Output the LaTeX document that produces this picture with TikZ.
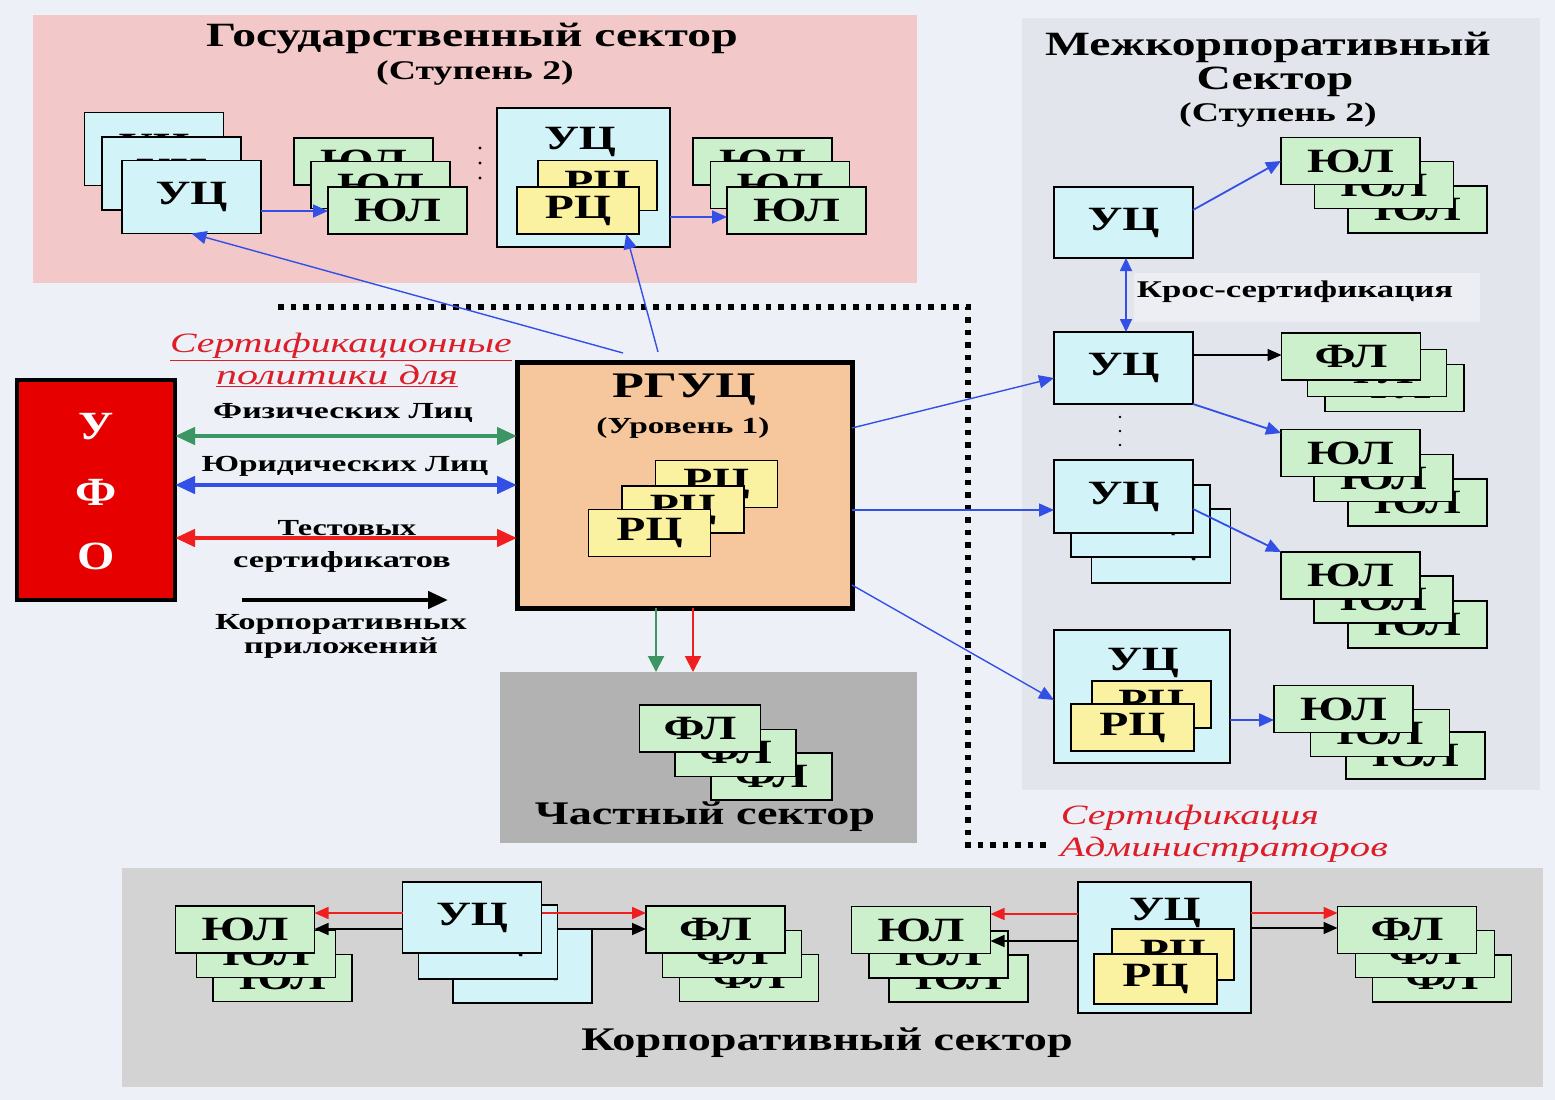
\documentclass[tikz,border=0pt]{standalone}
\usepackage{fontspec}
\setmainfont{Liberation Serif}
\usepackage{graphicx}
\usetikzlibrary{arrows.meta,calc}

\definecolor{pagebg}{RGB}{238,240,248}
\definecolor{govpink}{RGB}{242,200,200}
\definecolor{intergray}{RGB}{226,229,235}
\definecolor{crossbg}{RGB}{236,238,243}
\definecolor{privgray}{RGB}{178,178,178}
\definecolor{corpgray}{RGB}{211,211,211}
\definecolor{ucfill}{RGB}{210,244,248}
\definecolor{persfill}{RGB}{204,240,204}
\definecolor{rcfill}{RGB}{250,242,160}
\definecolor{rootfill}{RGB}{246,198,156}
\definecolor{ufored}{RGB}{230,0,0}
\definecolor{linkblue}{RGB}{50,80,230}
\definecolor{linkgreen}{RGB}{60,150,100}
\definecolor{linkred}{RGB}{240,30,30}
\definecolor{notered}{RGB}{220,30,40}

% horizontally widened lettering
\newcommand\stx[2][1.4]{\scalebox{#1}[1]{#2}}
\newcommand\fsz[1]{\fontsize{#1}{#1}\selectfont}

\begin{document}
\begin{tikzpicture}[x=1pt,y=-1pt,
  every node/.style={inner sep=0pt, outer sep=0pt},
  card/.style={draw=black, line width=1.6pt, minimum width=139pt, minimum height=47pt,
    font=\fsz{34}\bfseries},
  ylbox/.style={card, fill=persfill},
  ucbox/.style={card, fill=ucfill, minimum height=73pt},
  rcbox/.style={card, fill=rcfill, minimum width=121pt},
  holder/.style={draw=black, line width=1.6pt, fill=ucfill},
  sector/.style={draw=none},
  bigtitle/.style={font=\fsz{34}\bfseries},
  subtitle/.style={font=\fsz{27}\bfseries},
  smalllbl/.style={font=\fsz{23}\bfseries},
  notetext/.style={font=\fsz{28}\itshape, text=notered},
  bluelink/.style={draw=linkblue, line width=1.8pt, -{Triangle[length=15pt,width=13pt]}},
  thinlink/.style={draw=linkblue, line width=1.4pt, -{Triangle[length=15pt,width=13pt]}},
  blacklink/.style={draw=black, line width=1.6pt, -{Triangle[length=14pt,width=12pt]}},
  redlink/.style={draw=linkred, line width=1.6pt, -{Triangle[length=14pt,width=12pt]}},
  policy/.style={line width=4.5pt, {Triangle[length=20pt,width=17pt]}-{Triangle[length=20pt,width=17pt]}},
  downlink/.style={line width=2pt, -{Triangle[length=16pt,width=16pt]}},
  dotline/.style={draw=black, line width=5.5pt, dash pattern=on 5.5pt off 7pt}
]
\useasboundingbox (0,0) rectangle (1555,1100);
\fill[pagebg] (0,0) rectangle (1555,1100);

% ---------- sector backgrounds ----------
\node[sector, fill=govpink, minimum width=884pt, minimum height=268pt] (gov) at (475,149) {};
\node[sector, fill=intergray, minimum width=518pt, minimum height=772pt] (inter) at (1281,404) {};
\node[sector, fill=privgray, minimum width=417pt, minimum height=171pt] (priv) at (708.5,757.5) {};
\node[sector, fill=corpgray, minimum width=1421pt, minimum height=219pt] (corp) at (832.5,977.5) {};

% ---------- administrators' boundary ----------
\coordinate (d1) at (278,307);
\coordinate (d2) at (968,307);
\coordinate (d3) at (968,845);
\coordinate (d4) at (1048,845);
\draw[dotline] (d1) -- (d2) -- (d3) -- (d4);

% ---------- state sector ----------
\node[bigtitle] (govtitle) at (472,38) {\stx{Государственный сектор}};
\node[subtitle] (govstep) at (475,73) {\stx{(Ступень 2)}};

\node[ucbox] (g_uc3) at (154,149) {\stx{УЦ}};
\node[ucbox] (g_uc2) at (171.5,173.5) {\stx{УЦ}};
\node[ucbox] (g_uc1) at (191.5,197) {\stx{УЦ}};

\node[ylbox] (g_yl3) at (363.5,161.5) {\stx{ЮЛ}};
\node[ylbox] (g_yl2) at (380.5,185) {\stx{ЮЛ}};
\node[ylbox] (g_yl1) at (397.5,210.5) {\stx{ЮЛ}};

\foreach \yy in {148,163,178} \fill (480,\yy) circle (1.6pt);

\node[holder, minimum width=173pt, minimum height=139pt] (g_hold) at (583.5,177.5) {};
\node[font=\fsz{34}\bfseries] (g_uctxt) at (580,142) {\stx{УЦ}};
\node[rcbox, minimum width=119pt, minimum height=50pt] (g_rc2) at (597.5,185.5) {\stx{РЦ}};
\node[rcbox, minimum width=122pt] (g_rc1) at (578,210.5) {\stx{РЦ}};

\node[ylbox] (g_yr3) at (762.5,161.5) {\stx{ЮЛ}};
\node[ylbox] (g_yr2) at (780,185) {\stx{ЮЛ}};
\node[ylbox] (g_yr1) at (796.5,210.5) {\stx{ЮЛ}};

\draw[bluelink] (g_uc1.east |- 0,211) -- (g_yl1.west |- 0,211);
\draw[bluelink] (g_hold.east |- 0,217) -- (g_yr1.west |- 0,217);

% ---------- inter-corporate sector ----------
\node[bigtitle] (intitle) at (1268,47) {\stx{Межкорпоративный}};
\node[bigtitle] (intitle2) at (1275,82) {\stx{Сектор}};
\node[subtitle] (instep) at (1278,115) {\stx{(Ступень 2)}};

\node[ucbox, minimum height=71pt] (i_uc1) at (1123.5,222.5) {\stx{УЦ}};
\node[ylbox] (i_ya3) at (1417.5,209.5) {\stx{ЮЛ}};
\node[ylbox] (i_ya2) at (1384,185) {\stx{ЮЛ}};
\node[ylbox] (i_ya1) at (1350.5,161) {\stx{ЮЛ}};
\draw[bluelink] (i_uc1.east |- 0,210) -- (i_ya1.west);

\node[fill=crossbg, minimum width=346pt, minimum height=49pt] (crossbox) at (1307,297.5) {};
\node[font=\fsz{24}\bfseries] (crosstxt) at (1295,292) {\stx[1.45]{Крос-сертификация}};

\node[ucbox, minimum height=72pt] (i_uc2) at (1123.5,368) {\stx{УЦ}};
\draw[draw=linkblue, line width=1.8pt, {Triangle[length=13pt,width=12pt]}-{Triangle[length=13pt,width=12pt]}]
  (i_uc1.south -| 1126,0) -- (i_uc2.north -| 1126,0);

\node[ylbox] (i_fl3) at (1394.5,388) {\stx{ФЛ}};
\node[ylbox] (i_fl2) at (1377,373) {\stx{ФЛ}};
\node[ylbox] (i_fl1) at (1351,356.5) {\stx{ФЛ}};
\draw[blacklink] (i_uc2.east |- 0,355) -- (i_fl1.west |- 0,355);

\node[ylbox] (i_yb3) at (1417.5,502.5) {\stx{ЮЛ}};
\node[ylbox] (i_yb2) at (1383.5,478) {\stx{ЮЛ}};
\node[ylbox] (i_yb1) at (1350.5,453) {\stx{ЮЛ}};
\draw[bluelink] (i_uc2.south east) -- (i_yb1.west |- 0,433);

\foreach \yy in {417,431,445} \fill (1120,\yy) circle (1.4pt);

\node[ucbox, minimum height=74pt] (i_uc3c) at (1161,546) {\stx{УЦ}};
\node[ucbox, minimum height=72pt] (i_uc3b) at (1140.5,521) {\stx{УЦ}};
\node[ucbox] (i_uc3a) at (1123.5,496.5) {\stx{УЦ}};

\node[ylbox] (i_yc3) at (1417.5,624.5) {\stx{ЮЛ}};
\node[ylbox] (i_yc2) at (1383.5,599.5) {\stx{ЮЛ}};
\node[ylbox] (i_yc1) at (1350.5,575.5) {\stx{ЮЛ}};
\draw[bluelink] (i_uc3a.east |- 0,509) -- (i_yc1.north west);

\node[holder, minimum width=176pt, minimum height=133pt] (i_hold) at (1142,696.5) {};
\node[font=\fsz{34}\bfseries] (i_uctxt) at (1143,663) {\stx{УЦ}};
\node[rcbox, minimum width=119pt] (i_rc2) at (1151.5,704.5) {\stx{РЦ}};
\node[rcbox, minimum width=123pt] (i_rc1) at (1132.5,727.5) {\stx{РЦ}};

\node[ylbox] (i_yd3) at (1415.5,755.5) {\stx{ЮЛ}};
\node[ylbox] (i_yd2) at (1380,733) {\stx{ЮЛ}};
\node[ylbox] (i_yd1) at (1343.5,709) {\stx{ЮЛ}};
\draw[bluelink] (i_hold.east |- 0,720) -- (i_yd1.west |- 0,720);

% ---------- federal district ----------
\node[draw=black, line width=4pt, fill=ufored, minimum width=158pt, minimum height=220pt] (ufo) at (96,490) {};
\node[font=\fsz{40}\bfseries, text=white] (ufo1) at (96,427) {\stx[1.2]{У}};
\node[font=\fsz{40}\bfseries, text=white] (ufo2) at (96,492) {\stx[1.2]{Ф}};
\node[font=\fsz{40}\bfseries, text=white] (ufo3) at (96,556) {\stx[1.2]{О}};

% ---------- regional root CA ----------
\node[draw=black, line width=5pt, fill=rootfill, minimum width=335pt, minimum height=246pt] (rg) at (684.5,485) {};
\node[font=\fsz{36}\bfseries] (rgtxt) at (684,390) {\stx[1.45]{РГУЦ}};
\node[smalllbl] (rglvl) at (683,428) {\stx[1.45]{(Уровень 1)}};
\node[rcbox, minimum width=122pt] (r_rc3) at (716.5,484) {\stx{РЦ}};
\node[rcbox, minimum width=122pt] (r_rc2) at (683,509.5) {\stx{РЦ}};
\node[rcbox, minimum width=122pt] (r_rc1) at (649.5,533) {\stx{РЦ}};

% ---------- certification policies ----------
\node[notetext] (pol1) at (341,347) {\stx[1.42]{\underline{Сертификационные}}};
\node[notetext] (pol2) at (337,376) {\stx[1.5]{\underline{политики для}}};
\node[smalllbl] (lblfl) at (343,413) {\stx[1.47]{Физических Лиц}};
\node[smalllbl] (lblyl) at (345,466) {\stx[1.45]{Юридических Лиц}};
\node[smalllbl] (lbltest1) at (347,528) {\stx{Тестовых}};
\node[smalllbl] (lbltest2) at (342,562) {\stx[1.5]{сертификатов}};
\node[smalllbl] (lblcorp1) at (341,624) {\stx[1.5]{Корпоративных}};
\node[smalllbl] (lblcorp2) at (341,648) {\stx[1.5]{приложений}};

\draw[policy, draw=linkgreen, fill=linkgreen] (ufo.east |- 0,436) -- (rg.west |- 0,436);
\draw[policy, draw=linkblue, fill=linkblue] (ufo.east |- 0,485) -- (rg.west |- 0,485);
\draw[policy, draw=linkred, fill=linkred] (ufo.east |- 0,538) -- (rg.west |- 0,538);
\coordinate (k1) at (242,600);
\coordinate (k2) at (448,600);
\draw[line width=4.5pt, -{Triangle[length=20pt,width=17pt]}] (k1) -- (k2);

% ---------- links from the root ----------
\coordinate (rg_t1) at (623,353);
\coordinate (rg_t2) at (658,352);
\draw[thinlink] (rg_t1) -- (g_uc1.south);
\draw[thinlink] (rg_t2) -- ($(g_rc1.south)!0.79!(g_rc1.south east)$);
\draw[thinlink] (rg.east |- 0,428) -- (i_uc2.west |- 0,378);
\draw[thinlink] (rg.east |- 0,510) -- (i_uc3a.west |- 0,510);
\draw[thinlink] (rg.east |- 0,585) -- (i_hold.west |- 0,700);

\draw[downlink, draw=linkgreen] (rg.south -| 656,0) -- (priv.north -| 656,0);
\draw[downlink, draw=linkred] (rg.south -| 693,0) -- (priv.north -| 693,0);

% ---------- private sector ----------
\node[ylbox, minimum width=121pt] (p_fl3) at (771.5,776.5) {\stx{ФЛ}};
\node[ylbox, minimum width=121pt] (p_fl2) at (735.5,753) {\stx{ФЛ}};
\node[ylbox, minimum width=121pt] (p_fl1) at (700,728.5) {\stx{ФЛ}};
\node[font=\fsz{33}\bfseries] (privtitle) at (705,817) {\stx{Частный сектор}};

\node[notetext] (adm1) at (1190,818) {\stx[1.43]{Сертификация}};
\node[notetext] (adm2) at (1224,850) {\stx[1.45]{Администраторов}};

% ---------- corporate sector ----------
\node[ylbox] (c_yl3) at (282.5,978) {\stx{ЮЛ}};
\node[ylbox] (c_yl2) at (266,954) {\stx{ЮЛ}};
\node[ylbox] (c_yl1) at (245,929.5) {\stx{ЮЛ}};
\node[ucbox, minimum height=74pt] (c_uc3) at (522.5,966) {\stx{УЦ}};
\node[ucbox, minimum height=74pt] (c_uc2) at (488,942) {\stx{УЦ}};
\node[ucbox, minimum height=71pt] (c_uc1) at (472,917.5) {\stx{УЦ}};
\node[ylbox] (c_fl3) at (749,978) {\stx{ФЛ}};
\node[ylbox] (c_fl2) at (732,954) {\stx{ФЛ}};
\node[ylbox] (c_fl1) at (715.5,929.5) {\stx{ФЛ}};

\draw[redlink] (c_uc1.west |- 0,913) -- (c_yl1.east |- 0,913);
\draw[blacklink] (c_uc1.west |- 0,929) -- (c_yl1.east |- 0,929);
\draw[redlink] (c_uc1.east |- 0,913) -- (c_fl1.west |- 0,913);
\draw[blacklink] (c_uc2.east |- 0,929) -- (c_fl1.west |- 0,929);

\node[ylbox] (c_yr3) at (958.5,978.5) {\stx{ЮЛ}};
\node[ylbox] (c_yr2) at (938.5,954.5) {\stx{ЮЛ}};
\node[ylbox] (c_yr1) at (921,930) {\stx{ЮЛ}};
\node[holder, minimum width=173pt, minimum height=131pt] (c_hold) at (1164.5,947.5) {};
\node[font=\fsz{34}\bfseries] (c_uctxt) at (1165,913) {\stx{УЦ}};
\node[rcbox, minimum width=122pt, minimum height=51pt] (c_rc2) at (1173,954.5) {\stx{РЦ}};
\node[rcbox, minimum width=123pt, minimum height=50pt] (c_rc1) at (1155.5,979) {\stx{РЦ}};
\node[ylbox] (c_fr3) at (1442,978.5) {\stx{ФЛ}};
\node[ylbox] (c_fr2) at (1425,954) {\stx{ФЛ}};
\node[ylbox] (c_fr1) at (1407,930) {\stx{ФЛ}};

\draw[redlink] (c_hold.west |- 0,914) -- (c_yr1.east |- 0,914);
\draw[blacklink] (c_hold.west |- 0,941) -- (c_yr1.east |- 0,941);
\draw[redlink] (c_hold.east |- 0,913) -- (c_fr1.west |- 0,913);
\draw[blacklink] (c_hold.east |- 0,928) -- (c_fr1.west |- 0,928);

\node[font=\fsz{33}\bfseries] (corptitle) at (827,1043) {\stx{Корпоративный сектор}};
\end{tikzpicture}
\end{document}
